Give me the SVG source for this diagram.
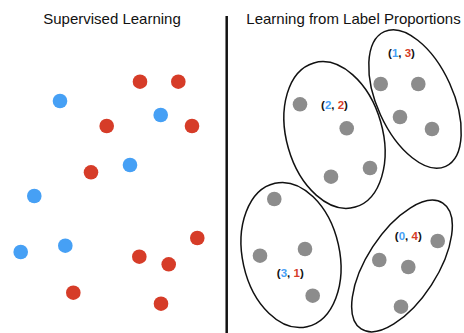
<svg xmlns="http://www.w3.org/2000/svg" width="464" height="333" viewBox="0 0 464 333">
<style>
.t{font-family:"Liberation Sans",Arial,sans-serif;font-size:15px;fill:#111}
.l{font-family:"Liberation Sans",Arial,sans-serif;font-size:11.5px;font-weight:bold;fill:#111;text-anchor:middle}
.b{fill:#46a0f5}
.r{fill:#d63c28}
.g{fill:#8c8c8c}
.bt{fill:#46a0f5}
.rt{fill:#d63c28}
.e{fill:none;stroke:#111;stroke-width:1.5}
</style>
<rect width="464" height="333" fill="#fff"/>
<text class="t" x="112" y="24" text-anchor="middle">Supervised Learning</text>
<text class="t" x="353.5" y="24" text-anchor="middle">Learning from Label Proportions</text>
<line x1="226.7" y1="16" x2="226.7" y2="333" stroke="#111" stroke-width="2.5"/>
<g id="supervised">
<circle class="r" cx="140" cy="81.7" r="7.3"/>
<circle class="r" cx="178.3" cy="81.7" r="7.3"/>
<circle class="b" cx="60" cy="101" r="7.3"/>
<circle class="b" cx="160.7" cy="115" r="7.3"/>
<circle class="r" cx="106.7" cy="126" r="7.3"/>
<circle class="r" cx="192" cy="126" r="7.3"/>
<circle class="b" cx="130" cy="165" r="7.3"/>
<circle class="r" cx="91" cy="172.3" r="7.3"/>
<circle class="b" cx="34.3" cy="196" r="7.3"/>
<circle class="b" cx="20.7" cy="252" r="7.3"/>
<circle class="b" cx="65.3" cy="245.7" r="7.3"/>
<circle class="r" cx="197.3" cy="238" r="7.3"/>
<circle class="r" cx="139.3" cy="256.7" r="7.3"/>
<circle class="r" cx="168.7" cy="264.3" r="7.3"/>
<circle class="r" cx="73.3" cy="292.7" r="7.3"/>
<circle class="r" cx="161" cy="303.7" r="7.3"/>
</g>
<g id="bag-1-3">
<ellipse class="e" cx="415" cy="99" rx="38" ry="74" transform="rotate(-24.5 415 99)"/>
<circle class="g" cx="380.7" cy="84" r="7.3"/>
<circle class="g" cx="418.3" cy="84" r="7.3"/>
<circle class="g" cx="400" cy="117" r="7.3"/>
<circle class="g" cx="432" cy="129" r="7.3"/>
<text class="l" x="401.5" y="56.5">(<tspan class="bt">1</tspan>, <tspan class="rt">3</tspan>)</text>
</g>
<g id="bag-2-2">
<ellipse class="e" cx="334.5" cy="135" rx="48" ry="75" transform="rotate(-16 334.5 135)"/>
<circle class="g" cx="300" cy="104.3" r="7.3"/>
<circle class="g" cx="346.7" cy="128.3" r="7.3"/>
<circle class="g" cx="331" cy="176.7" r="7.3"/>
<circle class="g" cx="370" cy="168" r="7.3"/>
<text class="l" x="334.5" y="108.5">(<tspan class="bt">2</tspan>, <tspan class="rt">2</tspan>)</text>
</g>
<g id="bag-3-1">
<ellipse class="e" cx="291" cy="255" rx="48.5" ry="73.5" transform="rotate(-12.6 291 255)"/>
<circle class="g" cx="274.3" cy="199" r="7.3"/>
<circle class="g" cx="305" cy="249" r="7.3"/>
<circle class="g" cx="260" cy="255.7" r="7.3"/>
<circle class="g" cx="312.7" cy="295.7" r="7.3"/>
<text class="l" x="290.3" y="277">(<tspan class="bt">3</tspan>, <tspan class="rt">1</tspan>)</text>
</g>
<g id="bag-0-4">
<ellipse class="e" cx="402" cy="266" rx="35" ry="75" transform="rotate(33 402 266)"/>
<circle class="g" cx="437.7" cy="241" r="7.3"/>
<circle class="g" cx="379.3" cy="260" r="7.3"/>
<circle class="g" cx="408.3" cy="267" r="7.3"/>
<circle class="g" cx="401" cy="306.7" r="7.3"/>
<text class="l" x="408.3" y="240">(<tspan class="bt">0</tspan>, <tspan class="rt">4</tspan>)</text>
</g>
</svg>
